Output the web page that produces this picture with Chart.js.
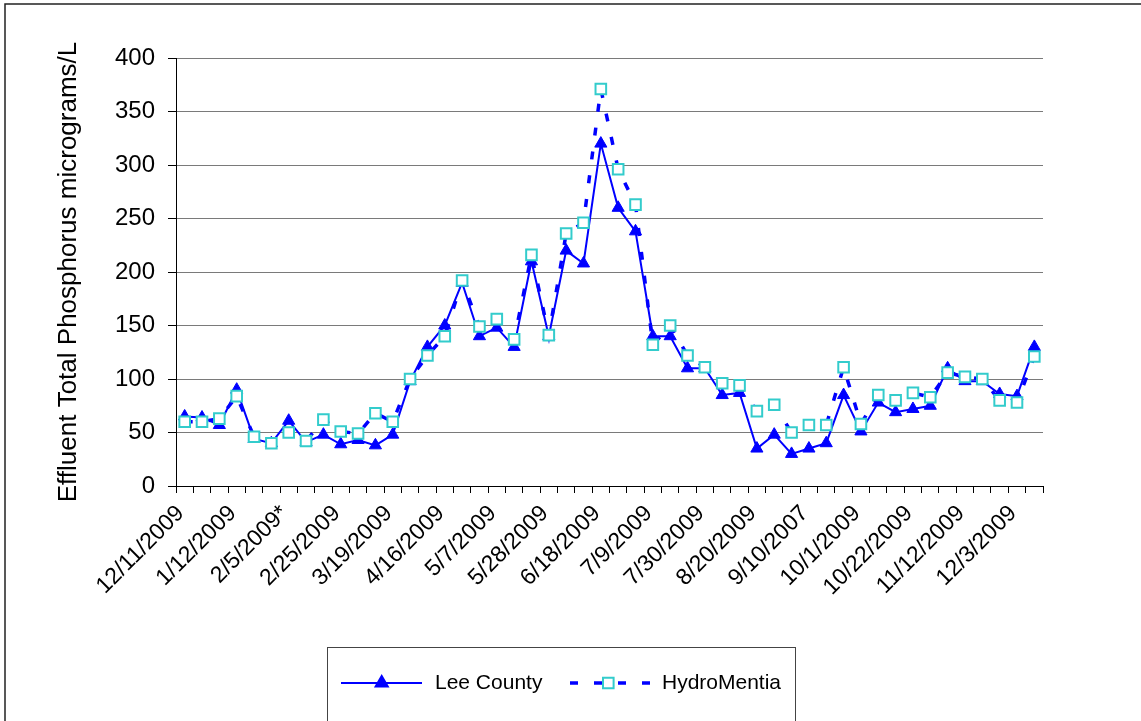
<!DOCTYPE html>
<html><head><meta charset="utf-8">
<script src="https://cdn.jsdelivr.net/npm/chart.js@4.4.1/dist/chart.umd.min.js"></script>
<style>html,body{margin:0;padding:0;background:#fff;overflow:hidden}canvas{display:block}</style>
</head><body>
<canvas id="c" width="1141" height="721"></canvas>
<script>
const tickLabels = ['12/11/2009','1/12/2009','2/5/2009*','2/25/2009','3/19/2009','4/16/2009','5/7/2009','5/28/2009','6/18/2009','7/9/2009','7/30/2009','8/20/2009','9/10/2007','10/1/2009','10/22/2009','11/12/2009','12/3/2009'];
const categories = [
 '12/11/2009','','', '1/12/2009','','', '2/5/2009*','','', '2/25/2009','','', '3/19/2009','','',
 '4/16/2009','','', '5/7/2009','','', '5/28/2009','','', '6/18/2009','','', '7/9/2009','','',
 '7/30/2009','','', '8/20/2009','','', '9/10/2007','','', '10/1/2009','','', '10/22/2009','','',
 '11/12/2009','','', '12/3/2009',''
];
const leeCounty = [65,64,57,90,44,40,61,41,48,39, 43,38,48,98,130,150,190,140,148,130,
 210,140,220,208,320,260,238,140,140,110, 110,85,87,35,48,30,35,40,85,51,
 78,69,72,75,110,98,98,86,84,130];
const hydroMentia = [60,60,63,84,46,40,50,42,62,51, 49,68,60,100,122,140,192,149,156,137,
 216,141,236,246,371,296,263,132,150,122, 111,96,94,70,76,50,57,57,111,58,
 85,80,87,83,106,102,100,80,78,121];
const yMin = 0, yMax = 400, yStep = 50;
const seriesNames = ['Lee County','HydroMentia'];

const FONT = 'Liberation Sans, Arial, sans-serif';

const framePlugin = {
  id: 'frame',
  beforeDraw(chart) {
    const ctx = chart.ctx;
    ctx.save();
    ctx.fillStyle = '#fff';
    ctx.fillRect(0, 0, chart.width, chart.height);
    ctx.restore();
  },
  afterDraw(chart) {
    const ctx = chart.ctx;
    ctx.save();
    ctx.strokeStyle = '#222';
    ctx.lineWidth = 1.5;
    ctx.strokeRect(5, 4, 1200, 800);
    ctx.strokeStyle = '#444';
    ctx.lineWidth = 1;
    ctx.strokeRect(327.5, 647.5, 468, 100);
    const ly = 683;
    ctx.strokeStyle = '#0000FF';
    ctx.lineWidth = 2;
    ctx.beginPath(); ctx.moveTo(341, ly); ctx.lineTo(422, ly); ctx.stroke();
    ctx.fillStyle = '#0000FF';
    Chart.helpers.drawPoint(ctx, {pointStyle: 'triangle', radius: 7, rotation: 0, borderWidth: 1}, 381.7, ly);
    ctx.setLineDash([8, 16]);
    ctx.lineWidth = 3.5;
    ctx.strokeStyle = '#0000FF';
    ctx.beginPath(); ctx.moveTo(570, ly); ctx.lineTo(650, ly); ctx.stroke();
    ctx.setLineDash([]);
    ctx.fillStyle = '#fff';
    ctx.strokeStyle = '#33CCCC';
    ctx.lineWidth = 2;
    Chart.helpers.drawPoint(ctx, {pointStyle: 'rect', radius: 7.5, rotation: 0, borderWidth: 2}, 608.3, ly);
    ctx.fillStyle = '#000';
    ctx.font = '21px ' + FONT;
    ctx.textBaseline = 'middle';
    ctx.textAlign = 'left';
    ctx.fillText(seriesNames[0], 435, ly);
    ctx.fillText(seriesNames[1], 662, ly);
    ctx.restore();
  }
};

new Chart(document.getElementById('c'), {
  type: 'line',
  data: {
    labels: categories,
    datasets: [
      {
        label: seriesNames[1],
        data: hydroMentia,
        order: 0,
        borderColor: '#0000FF',
        borderWidth: 3.5,
        borderDash: [8, 16],
        tension: 0,
        fill: false,
        pointStyle: 'rect',
        pointRadius: 7.5,
        pointBorderWidth: 2,
        pointBorderColor: '#33CCCC',
        pointBackgroundColor: '#FFFFFF'
      },
      {
        label: seriesNames[0],
        data: leeCounty,
        order: 1,
        borderColor: '#0000FF',
        backgroundColor: '#0000FF',
        borderWidth: 2,
        tension: 0,
        fill: false,
        pointStyle: 'triangle',
        pointRadius: 7,
        pointBorderWidth: 1,
        pointBorderColor: '#0000FF',
        pointBackgroundColor: '#0000FF'
      }
    ]
  },
  options: {
    responsive: false,
    animation: false,
    devicePixelRatio: 1,
    layout: { padding: { left: 0, top: 58, right: 98, bottom: 0 } },
    plugins: { legend: { display: false }, tooltip: { enabled: false } },
    scales: {
      x: {
        offset: true,
        grid: { display: true, drawOnChartArea: false, drawTicks: true, tickLength: 7, offset: true, tickColor: '#000', tickWidth: 1 },
        border: { display: true, color: '#000', width: 1 },
        ticks: {
          autoSkip: false, maxRotation: 45, minRotation: 45, padding: 7, labelOffset: -4,
          color: '#000', font: { family: FONT, size: 23 },
          callback: (v, i) => categories[i]
        },
        afterFit: (s) => { s.height = 235; }
      },
      y: {
        min: yMin, max: yMax,
        grid: { color: '#7a7a7a', lineWidth: 1, tickLength: 8, tickColor: '#000', drawTicks: true },
        border: { display: true, color: '#000', width: 1 },
        ticks: { stepSize: yStep, padding: 13, color: '#000', font: { family: FONT, size: 24 } },
        title: { display: true, text: 'Effluent Total Phosphorus micrograms/L', color: '#000', font: { family: FONT, size: 26 }, padding: { top: 53, bottom: 0 } },
        afterFit: (s) => { s.width = 176; }
      }
    }
  },
  plugins: [framePlugin]
});
</script>
</body></html>
